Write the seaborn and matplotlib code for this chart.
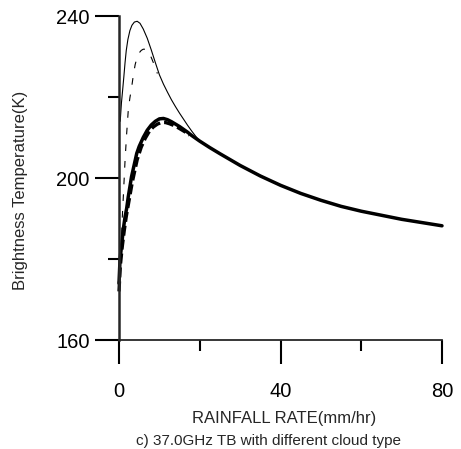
import matplotlib
matplotlib.use("Agg")
import matplotlib.pyplot as plt
import seaborn as sns
import pandas as pd

# ---- data ----
thick_solid_x = [0, 0.25, 0.7, 1.1, 1.5, 1.9, 2.3, 3.1, 4.4, 5, 6, 7, 8, 9, 10, 11, 12, 13,
                 14, 15, 16, 17, 18, 19, 20, 22.5, 25, 30, 35, 40, 45, 50, 55, 60, 65, 70,
                 75, 80]
thick_solid_y = [174, 179.8, 183.9, 187.6, 190.4, 192.5, 195.4, 200.3, 206.1, 207.8, 210.0,
                 211.8, 213.1, 214.0, 214.6, 214.7, 214.4, 213.9, 213.3, 212.7, 212.0, 211.3,
                 210.5, 209.8, 209.1, 207.5, 206.0, 203.1, 200.5, 198.2, 196.2, 194.5, 193.0,
                 191.8, 190.8, 189.8, 189.0, 188.2]

thin_solid_x = [0.3, 0.6, 0.9, 1.2, 1.5, 1.8, 2.2, 2.7, 3.2, 3.8, 4.5, 5.2, 6, 7, 8, 9, 10,
                11, 12, 13, 14, 15, 16, 17, 18, 19, 20]
thin_solid_y = [214, 218.5, 221.7, 225, 228.5, 231.5, 234.2, 236.4, 237.7, 238.5, 238.7,
                238.2, 236.8, 234.5, 231.6, 228.5, 225.5, 223.2, 221.2, 219.3, 217.6, 216.0,
                214.5, 213.0, 211.6, 210.3, 209.1]

thin_dash_x = [0.5, 0.8, 1.1, 1.5, 1.9, 2.3, 2.7, 3.1, 3.5, 4, 4.5, 5, 5.5, 6, 6.5, 6.9,
               7.3, 7.7, 8.1, 8.5, 9, 9.5]
thin_dash_y = [182, 190, 196, 204.4, 211, 216.8, 219.8, 222.2, 225.0, 228.0, 229.8, 230.9,
               231.5, 231.8, 231.8, 231.6, 231.1, 230.4, 229.5, 228.5, 227.2, 225.8]

thick_dash_x = [0, 0.3, 0.8, 1.3, 1.8, 2.5, 3.3, 4.5, 5.5, 6.5, 7.5, 8.5, 9.5, 10.5, 11.5,
                12.5, 13.5, 14.5, 15.5, 16.5, 17.5]
thick_dash_y = [172, 178, 183, 187, 190.5, 194.5, 199, 204.5, 207.6, 209.8, 211.5, 212.6,
                213.3, 213.7, 213.7, 213.4, 213.0, 212.5, 211.9, 211.3, 210.6]

x_major = [0, 40, 80]
x_minor = [20, 60]
y_major = [160, 200, 240]
y_minor = [180, 220]

xlabel = "RAINFALL RATE(mm/hr)"
ylabel = "Brightness Temperature(K)"
caption = "c) 37.0GHz TB with different cloud type"

# ---- style ----
sns.set_style("ticks")
plt.rcParams["font.family"] = ["Liberation Sans", "DejaVu Sans"]

fig = plt.figure(figsize=(4.61, 4.49), dpi=100)
ax = fig.add_axes([119 / 461, 1 - 340 / 449, (442 - 119) / 461, (340 - 16) / 449])

def draw(xs, ys, lw, dashes=None):
    df = pd.DataFrame({"x": xs, "y": ys})
    sns.lineplot(data=df, x="x", y="y", ax=ax, color="black", linewidth=lw,
                 sort=False, estimator=None)
    ln = ax.lines[-1]
    ln.set_clip_on(False)
    if dashes is not None:
        ln.set_dashes(dashes)
    ln.set_solid_capstyle("round")
    ln.set_solid_joinstyle("round")

draw(thin_solid_x, thin_solid_y, 0.8)
draw(thin_dash_x, thin_dash_y, 0.8, dashes=(6, 9))
draw(thick_dash_x, thick_dash_y, 2.4, dashes=(3, 1.2))
draw(thick_solid_x, thick_solid_y, 2.5)

ax.set_xlim(0, 80)
ax.set_ylim(160, 240)
ax.set_xticks(x_major)
ax.set_xticks(x_minor, minor=True)
ax.set_yticks(y_major)
ax.set_yticks(y_minor, minor=True)
ax.set_xlabel("")
ax.set_ylabel("")

sns.despine(ax=ax)
ax.spines["left"].set_linewidth(1.8)
ax.spines["bottom"].set_linewidth(1.3)
ax.tick_params(axis="both", which="major", length=17, width=1.5, colors="black",
               labelsize=14.5)
ax.tick_params(axis="both", which="minor", length=8, width=1.5, colors="black")
ax.tick_params(axis="x", which="major", pad=13)
ax.tick_params(axis="y", which="major", pad=4)

fig.text(284 / 461, 1 - 419 / 449, xlabel, ha="center", va="center", fontsize=12)
fig.text(21 / 461, 1 - 190 / 449, ylabel, ha="center", va="center", rotation=90,
         fontsize=12)
fig.text(268 / 461, 1 - 441 / 449, caption, ha="center", va="center", fontsize=11)

fig.savefig("out.png", dpi=100, facecolor="white")
